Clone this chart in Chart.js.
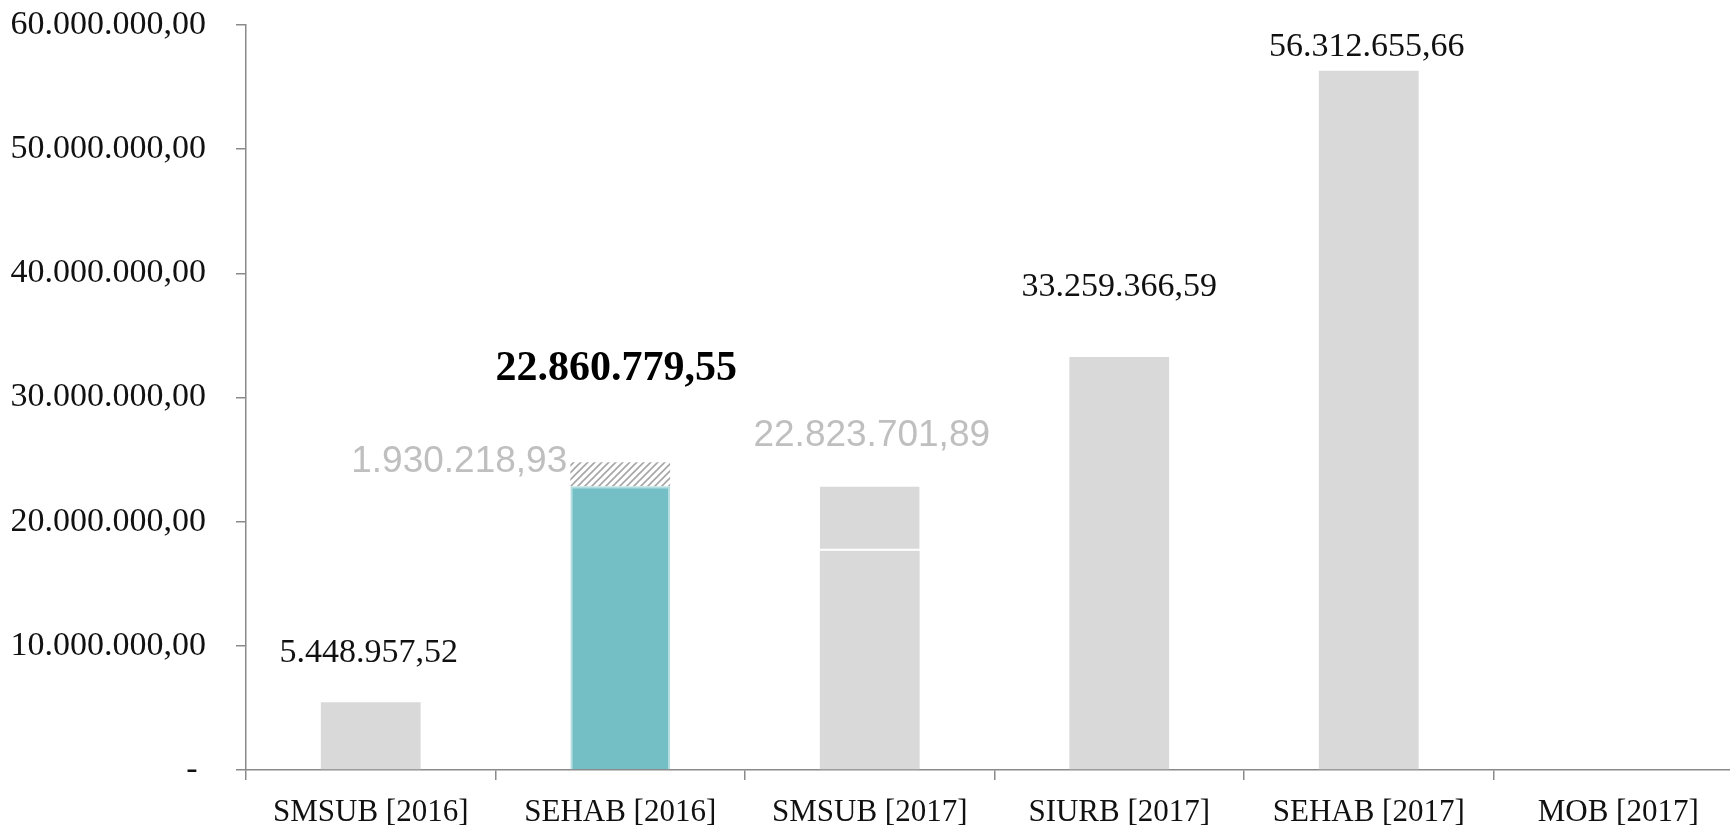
<!DOCTYPE html>
<html><head><meta charset="utf-8">
<script src="https://cdn.jsdelivr.net/npm/chart.js@4"></script>
<style>html,body{margin:0;padding:0;background:#fff;overflow:hidden;width:1730px;height:825px}canvas{display:block}</style>
</head><body><canvas id="c" width="1743" height="825"></canvas>
<script>
const categories = ['SMSUB [2016]','SEHAB [2016]','SMSUB [2017]','SIURB [2017]','SEHAB [2017]','MOB [2017]'];
const baseValues = [5448957.52, 22860779.55, 17660000, 33259366.59, 56312655.66, 0];
const topValues = [0, 1930218.93, 5163701.89, 0, 0, 0];
const yTickLabels = ['- ','10.000.000,00','20.000.000,00','30.000.000,00','40.000.000,00','50.000.000,00','60.000.000,00'];
const labelTexts = ['5.448.957,52','22.860.779,55','1.930.218,93','22.823.701,89','33.259.366,59','56.312.655,66'];
const labelCategory = [0, 1, 1, 2, 3, 4];

const SERIF = '"Liberation Serif", serif';
const SANS = '"Liberation Sans", Arial, sans-serif';
const labelStyles = [
  {font: '34px ' + SERIF, color: '#111', dx: -2, dy: -40},
  {font: 'bold 42px ' + SERIF, color: '#000', dx: -4, dy: -82},
  {font: '37px ' + SANS, color: '#bfbfbf', dx: -161, dy: 10},
  {font: '37px ' + SANS, color: '#bfbfbf', dx: 2, dy: -41},
  {font: '34px ' + SERIF, color: '#111', dx: 0, dy: -61},
  {font: '34px ' + SERIF, color: '#111', dx: -2, dy: -15}
];

function hatch() {
  const s = 7, p = document.createElement('canvas');
  p.width = s; p.height = s;
  const g = p.getContext('2d');
  g.fillStyle = '#fff'; g.fillRect(0, 0, s, s);
  g.strokeStyle = '#a6a6a6'; g.lineWidth = 1.6;
  g.beginPath();
  g.moveTo(-1, s + 1); g.lineTo(s + 1, -1);
  g.moveTo(-1, 1); g.lineTo(1, -1);
  g.moveTo(s - 1, s + 1); g.lineTo(s + 1, s - 1);
  g.stroke();
  return g.createPattern(p, 'repeat');
}
const hatchPattern = hatch();

const labelPlugin = {
  id: 'valueLabels',
  afterDatasetsDraw(chart) {
    const ctx = chart.ctx;
    const meta = chart.getDatasetMeta(1);
    ctx.save();
    labelTexts.forEach((t, i) => {
      const el = meta.data[labelCategory[i]];
      const st = labelStyles[i];
      ctx.font = st.font;
      ctx.fillStyle = st.color;
      ctx.textAlign = 'center';
      ctx.textBaseline = 'alphabetic';
      ctx.fillText(t, el.x + st.dx, el.y + st.dy);
    });
    ctx.restore();
  }
};

const axisColor = '#8a8a8a';
new Chart(document.getElementById('c'), {
  type: 'bar',
  data: {
    labels: categories,
    datasets: [
      {
        data: baseValues,
        backgroundColor: (c) => c.dataIndex === 1 ? '#74bfc5' : '#d9d9d9',
        borderColor: (c) => c.dataIndex === 1 ? '#b4dde0' : 'rgba(0,0,0,0)',
        borderWidth: (c) => c.dataIndex === 1 ? 2 : 0,
        barPercentage: 0.4, categoryPercentage: 1
      },
      {
        data: topValues,
        backgroundColor: (c) => c.dataIndex === 1 ? hatchPattern : '#d9d9d9',
        borderColor: '#ffffff',
        borderWidth: (c) => c.dataIndex === 2 ? {bottom: 2, top: 0, left: 0, right: 0} : 0,
        borderSkipped: false,
        barPercentage: 0.4, categoryPercentage: 1
      }
    ]
  },
  options: {
    responsive: false,
    animation: false,
    devicePixelRatio: 1,
    layout: {padding: {top: 25, left: 0, right: 0, bottom: 0}},
    plugins: {legend: {display: false}, tooltip: {enabled: false}},
    scales: {
      x: {
        stacked: true,
        grid: {display: true, drawOnChartArea: false, drawTicks: true, tickLength: 10, color: axisColor, lineWidth: 1.5},
        border: {display: true, color: axisColor, width: 1.5},
        ticks: {font: {family: SERIF, size: 31}, color: '#111', padding: 14, maxRotation: 0, autoSkip: false},
        afterFit(s) { s.height = 55; }
      },
      y: {
        stacked: true,
        min: 0, max: 60000000,
        grid: {display: true, drawOnChartArea: false, drawTicks: true, tickLength: 10, color: axisColor, lineWidth: 1.5},
        border: {display: true, color: axisColor, width: 1.5},
        ticks: {stepSize: 10000000, font: {family: SERIF, size: 34}, color: '#111', padding: 30,
          callback: (v, i) => yTickLabels[i]},
        afterFit(s) { s.width = 246; s.paddingTop = 20; s.paddingBottom = 0; }
      }
    }
  },
  plugins: [labelPlugin]
});
</script>
</body></html>
